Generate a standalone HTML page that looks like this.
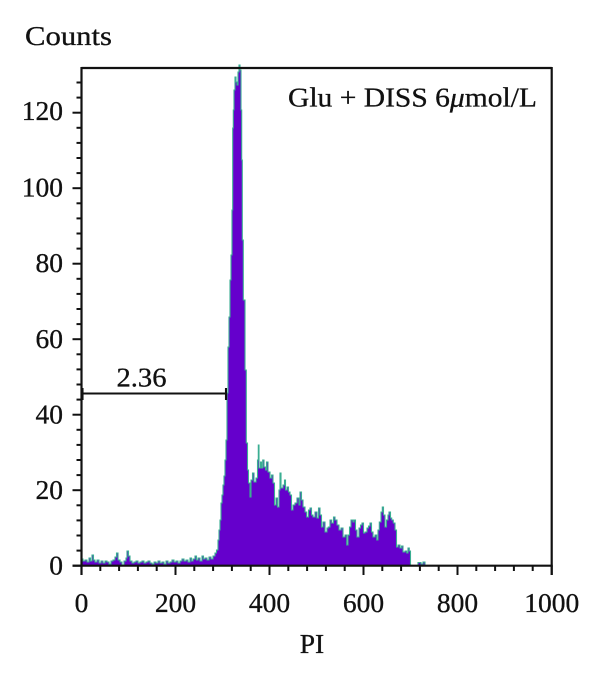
<!DOCTYPE html>
<html>
<head>
<meta charset="utf-8">
<style>
html,body{margin:0;padding:0;background:#fff;}
svg{display:block;}
text{font-family:"Liberation Serif",serif;fill:#111;stroke:#111;stroke-width:0.3;}
</style>
</head>
<body>
<svg width="600" height="681" viewBox="0 0 600 681" xmlns="http://www.w3.org/2000/svg">
<rect width="600" height="681" fill="#fff"/>

<!-- histogram -->
<path fill="#6500cc" stroke="#3aae92" stroke-width="1.1" stroke-linejoin="miter" d="M81.5,565.7 V559 H83 V561 H85 V560 H87 V562 H89 V558 H90.5 V561 H92 V555 H93.5 V560 H95 V562 H97 V560 H99 V563 H101 V561 H103 V563 H105 V561 H107 V562 H109 V564 H111 V561 H113 V560 H115 V557 H116.5 V553 H118 V560 H120 V562 H122 V565 H124 V561 H126 V558 H127 V551 H128.5 V556 H130 V561 H132 V563 H134 V562 H136 V561 H138 V563 H140 V562 H142 V561 H144 V563 H146 V562 H148 V561 H150 V563 H152 V564 H154 V562 H156 V563 H158 V561 H160 V563 H162 V562 H164 V564 H166 V561 H168 V563 H170 V562 H172 V560 H174 V562 H176 V561 H178 V563 H180 V561 H182 V559 H184 V561 H186 V560 H188 V562 H190 V558 H191.5 V561 H193 V559 H195 V556 H196.5 V560 H198 V558 H200 V561 H202 V556 H203.5 V559 H205 V558 H207 V560 H209 V557 H211 V559 H213 V556 H215 V553 H216.5 V550 H218 V540 H219 V530 H220 V520 H221 V503 H222 V495 H223 V485 H224 V476 H225 V460 H226 V440 H227 V393 H228 V347 H229 V317 H230 V280 H231 V255 H232 V210 H232.7 V128 H233.3 V110 H234 V90 H235 V77 H236 V82 H237 V85 H238 V72 H239 V65 H240 V70 H241 V110 H241.7 V160 H242.3 V240 H243.3 V300 H245 V370 H246.3 V443 H247.5 V470 H248.5 V483 H250 V497 H251 V480 H252.5 V473 H254 V482 H256 V478 H257.5 V460 H258.3 V445 H259 V468 H260.5 V462 H261.5 V468 H262.7 V460 H264 V467 H265.5 V470 H266.5 V462 H268 V472 H270 V478 H271.5 V475 H273 V483 H274.5 V505 H276 V498 H277.5 V507 H279 V490 H280 V473 H281 V488 H283 V485 H284.5 V480 H285.5 V490 H287 V487 H288.5 V492 H290 V495 H291.5 V510 H293 V505 H295 V503 H297 V498 H299 V505 H300 V492 H301.5 V500 H303 V507 H305 V512 H306.7 V517 H308.5 V510 H310 V508 H311.5 V515 H313 V517 H315 V512 H317 V518 H318.5 V508 H320 V515 H321.5 V527 H323 V522 H325 V532 H327 V528 H328.3 V527 H330 V520 H331.7 V523 H333.5 V517 H335 V520 H337 V525 H339 V530 H341 V528 H343 V537 H345 V535 H346.7 V545 H348 V535 H349.5 V527 H351 V520 H353 V522 H354 V520 H355.5 V530 H357 V537 H359 V528 H360.5 V525 H362 V523 H363.5 V533 H365 V532 H367 V528 H368.5 V526 H370 V523 H371.5 V532 H373 V537 H375 V535 H376.7 V540 H378 V530 H379.3 V522 H381 V512 H382.3 V507 H383.5 V515 H385 V527 H386.5 V520 H388 V515 H389 V512 H390.5 V518 H391.7 V520 H393.3 V523 H395 V530 H396.5 V547 H398 V545 H400 V548 H401.5 V546 H403 V552 H405 V551 H406.7 V553 H408 V548 H409.3 V551 H410.5 V565.7 H418 V562.5 H421 V564 H423 V562 H425 V565.7 Z"/>

<!-- box / axes -->
<g stroke="#111" stroke-width="2.2" fill="none">
  <line x1="81.5" y1="68" x2="551.7" y2="68"/>
  <line x1="551.7" y1="67" x2="551.7" y2="575"/>
  <line x1="81.5" y1="67" x2="81.5" y2="575"/>
  <line x1="72.5" y1="565.7" x2="552.7" y2="565.7"/>
</g>

<!-- y ticks -->
<g stroke="#111" stroke-width="2">
  <line x1="72.5" y1="565.7" x2="81.5" y2="565.7"/>
  <line x1="76.5" y1="550.6" x2="81.5" y2="550.6"/>
  <line x1="76.5" y1="535.5" x2="81.5" y2="535.5"/>
  <line x1="76.5" y1="520.4" x2="81.5" y2="520.4"/>
  <line x1="76.5" y1="505.3" x2="81.5" y2="505.3"/>
  <line x1="72.5" y1="490.2" x2="81.5" y2="490.2"/>
  <line x1="76.5" y1="475.1" x2="81.5" y2="475.1"/>
  <line x1="76.5" y1="460.0" x2="81.5" y2="460.0"/>
  <line x1="76.5" y1="444.9" x2="81.5" y2="444.9"/>
  <line x1="76.5" y1="429.8" x2="81.5" y2="429.8"/>
  <line x1="72.5" y1="414.7" x2="81.5" y2="414.7"/>
  <line x1="76.5" y1="399.6" x2="81.5" y2="399.6"/>
  <line x1="76.5" y1="384.5" x2="81.5" y2="384.5"/>
  <line x1="76.5" y1="369.4" x2="81.5" y2="369.4"/>
  <line x1="76.5" y1="354.3" x2="81.5" y2="354.3"/>
  <line x1="72.5" y1="339.2" x2="81.5" y2="339.2"/>
  <line x1="76.5" y1="324.1" x2="81.5" y2="324.1"/>
  <line x1="76.5" y1="309.0" x2="81.5" y2="309.0"/>
  <line x1="76.5" y1="293.9" x2="81.5" y2="293.9"/>
  <line x1="76.5" y1="278.8" x2="81.5" y2="278.8"/>
  <line x1="72.5" y1="263.7" x2="81.5" y2="263.7"/>
  <line x1="76.5" y1="248.6" x2="81.5" y2="248.6"/>
  <line x1="76.5" y1="233.5" x2="81.5" y2="233.5"/>
  <line x1="76.5" y1="218.4" x2="81.5" y2="218.4"/>
  <line x1="76.5" y1="203.3" x2="81.5" y2="203.3"/>
  <line x1="72.5" y1="188.2" x2="81.5" y2="188.2"/>
  <line x1="76.5" y1="173.1" x2="81.5" y2="173.1"/>
  <line x1="76.5" y1="158.0" x2="81.5" y2="158.0"/>
  <line x1="76.5" y1="142.9" x2="81.5" y2="142.9"/>
  <line x1="76.5" y1="127.8" x2="81.5" y2="127.8"/>
  <line x1="72.5" y1="112.7" x2="81.5" y2="112.7"/>
  <line x1="76.5" y1="97.6" x2="81.5" y2="97.6"/>
  <line x1="76.5" y1="82.5" x2="81.5" y2="82.5"/>
</g>

<!-- x ticks -->
<g stroke="#111" stroke-width="2">
  <line x1="81.5" y1="565.7" x2="81.5" y2="575"/>
  <line x1="100.3" y1="565.7" x2="100.3" y2="571"/>
  <line x1="119.1" y1="565.7" x2="119.1" y2="571"/>
  <line x1="137.9" y1="565.7" x2="137.9" y2="571"/>
  <line x1="156.7" y1="565.7" x2="156.7" y2="571"/>
  <line x1="175.5" y1="565.7" x2="175.5" y2="575"/>
  <line x1="194.3" y1="565.7" x2="194.3" y2="571"/>
  <line x1="213.1" y1="565.7" x2="213.1" y2="571"/>
  <line x1="231.9" y1="565.7" x2="231.9" y2="571"/>
  <line x1="250.7" y1="565.7" x2="250.7" y2="571"/>
  <line x1="269.5" y1="565.7" x2="269.5" y2="575"/>
  <line x1="288.3" y1="565.7" x2="288.3" y2="571"/>
  <line x1="307.1" y1="565.7" x2="307.1" y2="571"/>
  <line x1="325.9" y1="565.7" x2="325.9" y2="571"/>
  <line x1="344.7" y1="565.7" x2="344.7" y2="571"/>
  <line x1="363.5" y1="565.7" x2="363.5" y2="575"/>
  <line x1="382.3" y1="565.7" x2="382.3" y2="571"/>
  <line x1="401.1" y1="565.7" x2="401.1" y2="571"/>
  <line x1="419.9" y1="565.7" x2="419.9" y2="571"/>
  <line x1="438.7" y1="565.7" x2="438.7" y2="571"/>
  <line x1="457.5" y1="565.7" x2="457.5" y2="575"/>
  <line x1="476.3" y1="565.7" x2="476.3" y2="571"/>
  <line x1="495.1" y1="565.7" x2="495.1" y2="571"/>
  <line x1="513.9" y1="565.7" x2="513.9" y2="571"/>
  <line x1="532.7" y1="565.7" x2="532.7" y2="571"/>
  <line x1="551.7" y1="565.7" x2="551.7" y2="575"/>
</g>

<!-- y labels -->
<g font-size="27.5" text-anchor="end">
  <text x="63" y="574.5">0</text>
  <text x="63" y="499">20</text>
  <text x="63" y="423.5">40</text>
  <text x="63" y="348">60</text>
  <text x="63" y="272">80</text>
  <text x="63" y="196.5">100</text>
  <text x="63" y="120">120</text>
</g>

<!-- x labels -->
<g font-size="27.5" text-anchor="middle">
  <text x="81.5" y="612">0</text>
  <text x="175.5" y="612">200</text>
  <text x="269.5" y="612">400</text>
  <text x="363.5" y="612">600</text>
  <text x="457.5" y="612">800</text>
  <text x="551.7" y="612">1000</text>
</g>

<text x="25" y="45" font-size="27.5" textLength="87" lengthAdjust="spacingAndGlyphs">Counts</text>
<text x="312" y="653" font-size="27.5" text-anchor="middle">PI</text>

<text x="288" y="106.7" font-size="27.5" textLength="249" lengthAdjust="spacingAndGlyphs">Glu + DISS 6<tspan font-style="italic">μ</tspan>mol/L</text>

<!-- marker -->
<g stroke="#111" stroke-width="2.1">
  <line x1="81.5" y1="393.5" x2="226" y2="393.5"/>
  <line x1="82.5" y1="388" x2="82.5" y2="400"/>
  <line x1="226" y1="388" x2="226" y2="400"/>
</g>
<text x="116.5" y="386.7" font-size="27.5" textLength="50" lengthAdjust="spacingAndGlyphs">2.36</text>
</svg>
</body>
</html>
